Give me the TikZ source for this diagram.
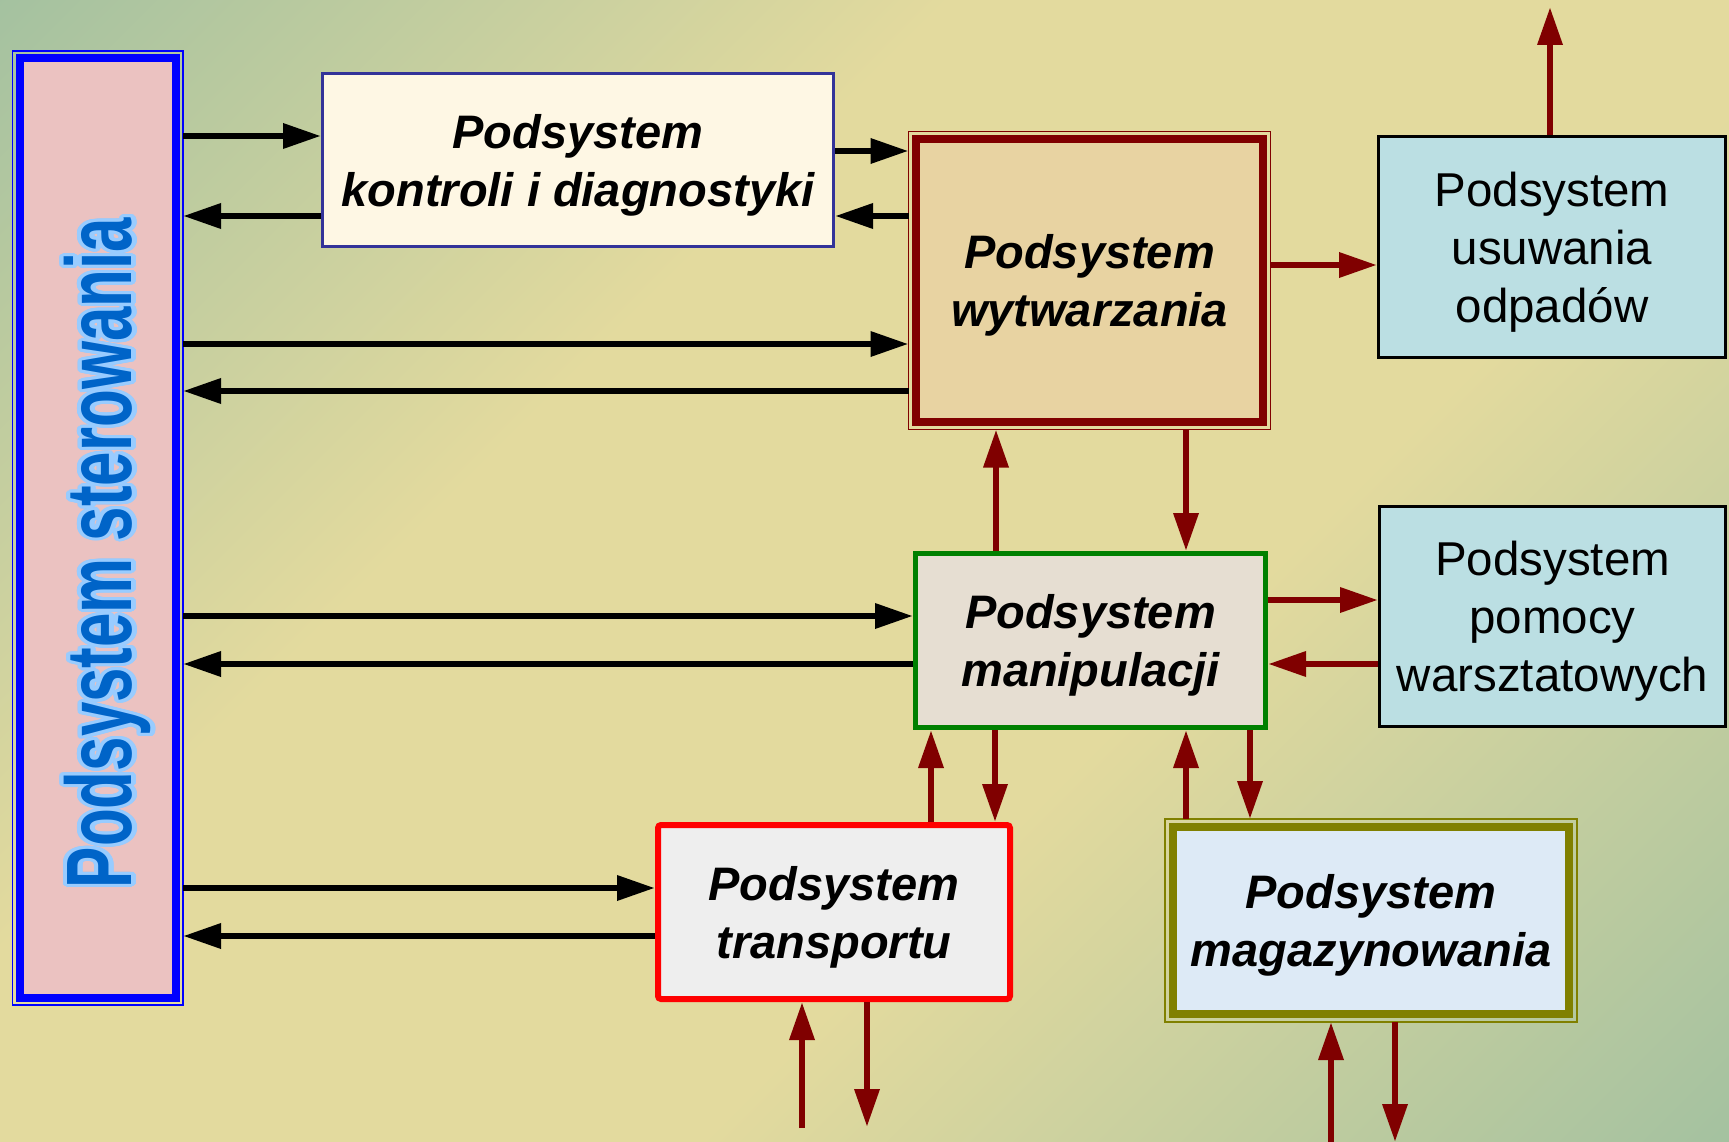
\documentclass[tikz,border=0pt]{standalone}
\usepackage{fontspec}
\setmainfont{Liberation Sans}
\usepackage{contour}
\usetikzlibrary{arrows.meta}
\definecolor{bgbeige}{HTML}{E3DA9E}
\definecolor{bggreen}{HTML}{A3C1A0}
\definecolor{sterfill}{HTML}{EBC2C1}
\definecolor{stertext}{HTML}{0064C8}
\definecolor{sterline}{HTML}{99CCFF}
\definecolor{konfill}{HTML}{FEF7E4}
\definecolor{konline}{HTML}{333399}
\definecolor{wytfill}{HTML}{E8D3A2}
\definecolor{darkred}{HTML}{800000}
\definecolor{manfill}{HTML}{E6DED2}
\definecolor{manline}{HTML}{008000}
\definecolor{trfill}{HTML}{EEEEEE}
\definecolor{magfill}{HTML}{DDEAF6}
\definecolor{magline}{HTML}{808000}
\definecolor{cyanfill}{HTML}{BBDFE3}
\pgfdeclareverticalshading{bgshade}{100bp}{color(0bp)=(bggreen); color(14bp)=(bggreen); color(40bp)=(bgbeige); color(62bp)=(bgbeige); color(86bp)=(bggreen); color(100bp)=(bggreen)}
\contourlength{4.5pt}
\contournumber{32}

\begin{document}
\begin{tikzpicture}[x=1pt,y=-1pt,
    box/.style={rectangle,inner sep=0pt,align=center,text depth=0pt,
      font=\fontsize{47}{58}\selectfont\bfseries\itshape},
    plainbox/.style={box,font=\fontsize{47.5}{58}\selectfont,
      draw=black,line width=3pt,fill=cyanfill},
    blk/.style={line width=6.5pt,-{Triangle[length=38pt,width=24pt]}},
    flow/.style={darkred,line width=6.5pt,-{Triangle[length=38pt,width=24pt]}},
    frame/.style={line width=1.5pt}]
  \useasboundingbox (0,0) rectangle (1729,1142);
  \shade[shading=bgshade,shading angle=45] (0,0) rectangle (1729,1142);

  % podsystemy
  \node[box,draw=blue,fill=sterfill,line width=8pt,outer sep=7pt,
    minimum width=156.5pt,minimum height=940pt] (ster) at (97.75,528) {};
  \draw[frame,blue] (ster.north west) rectangle (ster.south east);
  \node[rotate=90,text=stertext,font=\fontsize{93}{93}\selectfont\bfseries]
    (sterTxt) at (110,553) {\scalebox{0.665}[1]{\contour{sterline}{Podsystem sterowania}}};

  \node[box,draw=konline,fill=konfill,line width=3pt,
    minimum width=511pt,minimum height=173pt] (kon) at (578,160)
    {Podsystem\\kontroli i diagnostyki};
  \node[box,draw=darkred,fill=wytfill,line width=8pt,outer sep=7.5pt,
    minimum width=347pt,minimum height=283pt] (wyt) at (1089.5,280.5)
    {Podsystem\\wytwarzania};
  \draw[frame,darkred] (wyt.north west) rectangle (wyt.south east);
  \node[plainbox,minimum width=347pt,minimum height=221pt] (usu) at (1552,247)
    {Podsystem\\usuwania\\odpadów};
  \node[plainbox,minimum width=346pt,minimum height=220pt] (pom) at (1552.5,616.5)
    {Podsystem\\pomocy\\warsztatowych};
  \node[box,draw=manline,fill=manfill,line width=5pt,
    minimum width=350pt,minimum height=174pt] (man) at (1090.5,640.5)
    {Podsystem\\manipulacji};
  \node[box,draw=red,fill=trfill,line width=6pt,rounded corners=3pt,
    minimum width=352pt,minimum height=174pt] (tr) at (834,912)
    {Podsystem\\transportu};
  \node[box,draw=magline,fill=magfill,line width=8pt,outer sep=8pt,
    minimum width=396pt,minimum height=187pt] (mag) at (1371,920.5)
    {Podsystem\\magazynowania};
  \draw[frame,magline] (mag.north west) rectangle (mag.south east);

  \coordinate (odpOut) at (1550,7);
  \coordinate (trIn) at (802,1128);
  \coordinate (trOut) at (867,1127);
  \coordinate (magIn) at (1331,1142);
  \coordinate (magOut) at (1395,1142);

  % sterowanie
  \draw[blk] (ster.east |- 0,136) -- (kon.west |- 0,136);
  \draw[blk] (kon.west |- 0,216) -- (ster.east |- 0,216);
  \draw[blk] (kon.east |- 0,151) -- (wyt.west |- 0,151);
  \draw[blk] (wyt.west |- 0,216) -- (kon.east |- 0,216);
  \draw[blk] (ster.east |- 0,344) -- (wyt.west |- 0,344);
  \draw[blk] (wyt.west |- 0,391) -- (ster.east |- 0,391);
  \draw[blk] (ster.east |- 0,616) -- (man.west |- 0,616);
  \draw[blk] (man.west |- 0,664) -- (ster.east |- 0,664);
  \draw[blk] (ster.east |- 0,888) -- (tr.west |- 0,888);
  \draw[blk] (tr.west |- 0,936) -- (ster.east |- 0,936);

  % przeplyw materialow
  \draw[flow] (wyt.east |- 0,265) -- (usu.west |- 0,265);
  \draw[flow] (usu.north -| odpOut) -- (odpOut);
  \draw[flow] (man.north -| 996,0) -- (wyt.south -| 996,0);
  \draw[flow] (wyt.south -| 1186,0) -- (man.north -| 1186,0);
  \draw[flow] (man.east |- 0,600) -- (pom.west |- 0,600);
  \draw[flow] (pom.west |- 0,664) -- (man.east |- 0,664);
  \draw[flow] (tr.north -| 931,0) -- (man.south -| 931,0);
  \draw[flow] (man.south -| 995,0) -- (tr.north -| 995,0);
  \draw[flow] (mag.north -| 1186,0) -- (man.south -| 1186,0);
  \draw[flow] (man.south -| 1250,0) -- (mag.north -| 1250,0);
  \draw[flow] (trIn) -- (tr.south -| trIn);
  \draw[flow] (tr.south -| trOut) -- (trOut);
  \draw[flow] (magIn) -- (mag.south -| magIn);
  \draw[flow] (mag.south -| magOut) -- (magOut);
\end{tikzpicture}
\end{document}
